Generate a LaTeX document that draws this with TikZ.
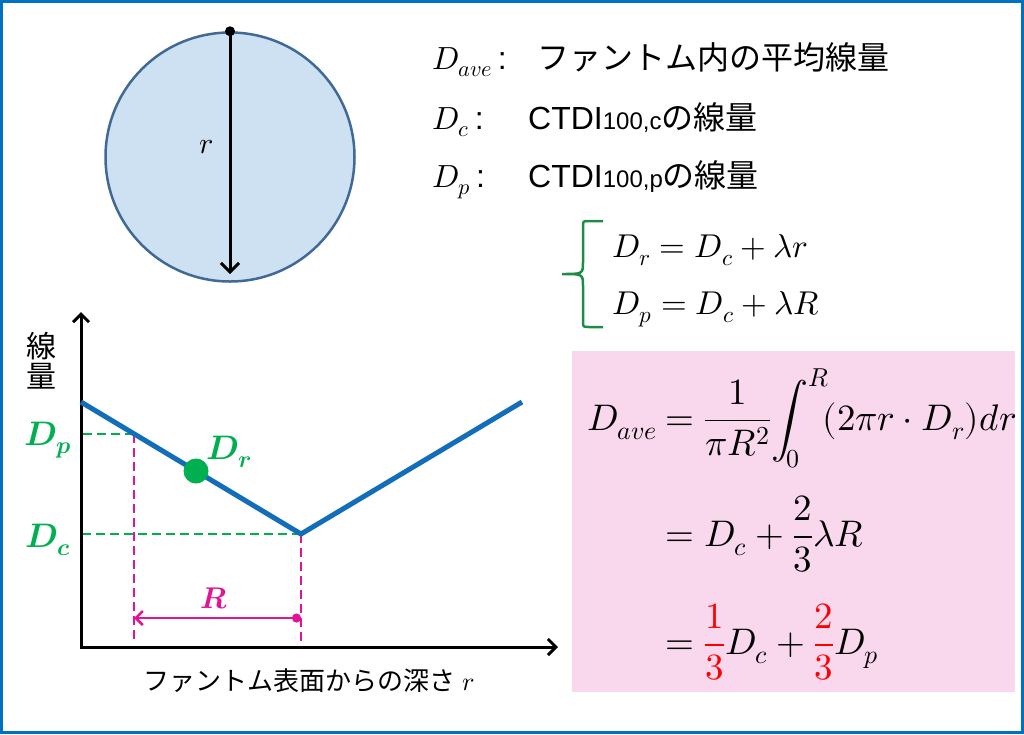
\documentclass[tikz,border=0pt]{standalone}
\usepackage{amsmath}
\usepackage{fontspec}
\usepackage{unicode-math}
\setmainfont{Liberation Sans}
\newfontfamily\jp{Noto Sans CJK JP}
\usepackage{tikz}
\usetikzlibrary{positioning,arrows.meta}
\definecolor{frameblue}{RGB}{0,112,192}
\definecolor{discfill}{RGB}{206,225,242}
\definecolor{discline}{RGB}{65,105,150}
\definecolor{curveblue}{RGB}{18,110,185}
\definecolor{dosegreen}{RGB}{0,176,80}
\definecolor{bracegreen}{RGB}{30,140,70}
\definecolor{rmagenta}{RGB}{225,20,150}
\definecolor{boxpink}{RGB}{249,216,237}
\newcommand{\setfs}[1]{\fontsize{#1}{#1}\selectfont}
\tikzstyle{txt} = [inner sep=0pt, anchor=base west]
\tikzstyle{big} = [txt, font=\setfs{37}]
\tikzstyle{mid} = [txt, font=\setfs{33}]
\tikzstyle{axis} = [line width=3pt]
\tikzstyle{guide} = [line width=2.5pt, dash pattern=on 9pt off 5pt]
\tikzstyle{lbl} = [font=\setfs{34}, text=dosegreen]

\begin{document}
\begin{tikzpicture}[x=1pt,y=-1pt]
	\useasboundingbox (0,0) rectangle (1024,734);
	\draw[frameblue, line width=3pt] (1.5,1.5) rectangle (1022.5,732.5);
	% phantom
	\node[circle, draw=discline, fill=discfill, line width=2.5pt, minimum size=249pt, inner sep=0] (disc) at (230,157) {};
	\coordinate (rend) at (230,274);
	\fill (disc.north) circle[radius=5pt];
	\draw[line width=3pt, -{Straight Barb[length=9pt,width=18pt]}] (disc.north) -- (rend);
	\node[font=\setfs{30}] (rlab) at (206,147) {$r$};
	% legend
	\node[txt, font=\setfs{32}] (dave) at (432,69) {$D_{ave}$\,:};
	\node[txt, font=\setfs{32}\jp] (daveT) at (537,69) {ファントム内の平均線量};
	\node[txt, font=\setfs{32}] (dc) at (432,129) {$D_{c}$\,:};
	\node[txt, font=\setfs{32}] (dcT) at (528,129) {CTDI{\setfs{24}100,c}{\jp の線量}};
	\node[txt, font=\setfs{32}] (dp) at (432,187) {$D_{p}$\,:};
	\node[txt, font=\setfs{32}] (dpT) at (528,187) {CTDI{\setfs{24}100,p}{\jp の線量}};
	% brace
	\draw[bracegreen, line width=2.5pt] (603,221) -- (589,221) .. controls (583,221) .. (583,227) -- (583,262)
		.. controls (583,274) .. (562,274) .. controls (583,274) .. (583,286) -- (583,321)
		.. controls (583,327) .. (589,327) -- (603,327);
	\node[mid] (eqr) at (612,257) {$D_r = D_c + \lambda r$};
	\node[mid] (eqp) at (612,314) {$D_p = D_c + \lambda R$};
	% result
	\fill[boxpink] (572,351) rectangle (1015,692);
	\node[big, anchor=base east] (lhs) at (657,430) {$D_{ave}$};
	\node[big] (l1) at (665,430) {$\displaystyle = \frac{1}{\pi R^2}\!\int_0^R\!(2\pi r\cdot D_r)dr$};
	\node[big] (l2) at (665,546) {$\displaystyle = D_c + \frac{2}{3}\lambda R$};
	\node[big] (l3) at (665,654) {$\displaystyle = {\color{red}\frac{1}{3}} D_c + {\color{red}\frac{2}{3}} D_p$};
	% graph
	\coordinate (O) at (81,647);
	\coordinate (ytop) at (81,312);
	\coordinate (xend) at (558,647);
	\coordinate (a) at (81,402);
	\coordinate (v) at (301,534);
	\coordinate (b) at (522,402);
	\coordinate (pp) at (134,434);
	\coordinate (foot) at (81,643);
	\coordinate (rr) at (301,618);
	\draw[dosegreen, guide] (pp) -- (pp -| O);
	\draw[dosegreen, guide] (v) -- (v -| O);
	\draw[rmagenta, guide] (pp) -- (pp |- foot);
	\draw[rmagenta, guide] (v) -- (v |- foot);
	\draw[axis, {Straight Barb[length=8pt,width=16pt]}-{Straight Barb[length=8pt,width=16pt]}] (ytop) -- (O) -- (xend);
	\draw[curveblue, line width=5pt] (a) -- (v) -- (b);
	\node[circle, fill=dosegreen, minimum size=25pt, inner sep=0] (drdot) at (196,471) {};
	\draw[rmagenta, line width=2.5pt, {Circle[length=9pt]}-{Straight Barb[length=7pt,width=14pt]}] (rr) -- (rr -| pp);
	\node[lbl] (dpLab) at (48,440) {$\symbfit{D}_{\symbfit{p}}$};
	\node[lbl] (dcLab) at (48,540) {$\symbfit{D}_{\symbfit{c}}$};
	\node[lbl] (drLab) at (229,452) {$\symbfit{D}_{\symbfit{r}}$};
	\node[lbl, text=rmagenta, font=\setfs{30}] (rLab) at (214,598) {$\symbfit{R}$};
	\node[font=\setfs{30}\jp, align=center, inner sep=0] (ylab) at (42,361) {線\\量};
	\node[font=\setfs{26}] (xlab) at (309,681) {{\jp ファントム表面からの深さ} $r$};
\end{tikzpicture}
\end{document}
